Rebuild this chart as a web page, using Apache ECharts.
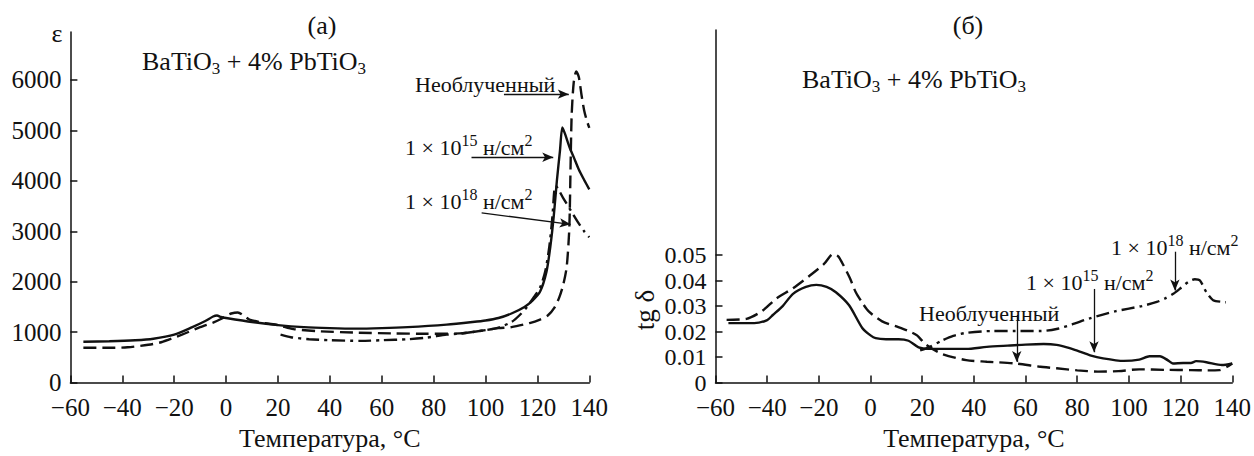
<!DOCTYPE html>
<html>
<head>
<meta charset="utf-8">
<script src="https://cdn.jsdelivr.net/npm/echarts@6/dist/echarts.min.js"></script>
<style>html,body{margin:0;padding:0;background:#fff}#c{width:1254px;height:456px}</style>
</head>
<body>
<div id="c"></div>
<script>
// ---- data: (a) permittivity ε vs temperature, °C ----
const epsUnirradiated = [[-55,690],[-45,690],[-38,700],[-30,750],[-25,800],[-17,950],[-10,1100],[-5,1190],[-2,1260],[0,1320],[2,1370],[4.5,1390],[7,1320],[9,1250],[15,1180],[20,1140],[26,1060],[35,1020],[50,990],[65,975],[77,968],[90,975],[100,1040],[105,1080],[110,1100],[117,1180],[121,1250],[124,1330],[126.5,1480],[128.5,1700],[130,1950],[131.3,2300],[132.3,3070],[132.8,4350],[133.2,5300],[134,5950],[135,6170],[136,6050],[137,5700],[138,5400],[139,5200],[140,5050]];
const epsF15 = [[-55,810],[-45,820],[-35,840],[-28,870],[-20,950],[-13,1100],[-8,1220],[-5,1310],[-3.5,1330],[-2,1300],[0,1280],[10,1200],[20,1140],[30,1100],[40,1080],[50,1070],[60,1080],[70,1100],[85,1150],[95,1200],[100,1230],[105,1280],[110,1370],[115,1500],[118,1620],[121,1800],[123.5,2200],[125,2700],[126.3,3300],[127.5,4000],[128.7,4600],[129.6,5060],[130.5,4950],[132.5,4650],[134,4470],[136,4220],[138,4020],[140,3830]];
const epsF18 = [[21,950],[25,900],[32,860],[40,840],[52,827],[60,840],[70,860],[77,890],[85,950],[90,970],[100,1040],[105,1090],[110,1200],[113,1330],[116,1500],[119,1720],[121,1880],[123,2200],[124.6,2700],[125.8,3300],[126.5,3800],[127,3900],[130,3650],[133,3400],[136,3150],[138,3000],[140,2880]];
// ---- data: (б) loss tangent tg δ vs temperature, °C ----
const tanUnirradiated = [[-55.7,0.0246],[-48,0.025],[-42,0.028],[-36.5,0.0329],[-30,0.037],[-23.7,0.0418],[-18,0.0465],[-14.5,0.0504],[-12.5,0.0495],[-10.9,0.0468],[-8,0.041],[-5.7,0.0354],[-3,0.031],[-0.6,0.0278],[4.5,0.024],[10,0.022],[14.7,0.0202],[18,0.0185],[21.2,0.0151],[27.5,0.0113],[37,0.0088],[45,0.0082],[56,0.0075],[65,0.0063],[72,0.0056],[80,0.0048],[88,0.0043],[96,0.0045],[104,0.0052],[114,0.005],[124,0.0049],[130,0.0048],[135,0.0049],[138,0.0062],[140,0.0075]];
const tanF15 = [[-55,0.0233],[-45,0.0233],[-40,0.0245],[-37.8,0.0265],[-34,0.03],[-30,0.0348],[-25,0.0375],[-21,0.0383],[-17,0.0375],[-13.4,0.0354],[-8.3,0.0303],[-3.2,0.0214],[0,0.0185],[2,0.0174],[6,0.017],[10.9,0.017],[14.7,0.0164],[18.6,0.0138],[22.4,0.0132],[30,0.0132],[37,0.0132],[45,0.014],[53,0.0145],[60,0.0149],[67,0.0151],[72,0.0148],[76,0.0138],[80,0.0125],[85,0.0107],[90,0.0095],[98,0.0085],[104,0.009],[108,0.0103],[112,0.0103],[115,0.0088],[117,0.0075],[121,0.0077],[124,0.0077],[126,0.0084],[130,0.008],[136,0.0069],[140,0.0075]];
const tanF18 = [[19.2,0.0126],[23,0.014],[27.5,0.0164],[32,0.0183],[37,0.0195],[46.7,0.0202],[56,0.0202],[66,0.0202],[72,0.021],[78,0.0228],[85.2,0.0253],[95,0.028],[105,0.03],[110.8,0.0316],[114,0.033],[117.2,0.0348],[120,0.037],[123,0.0395],[125.5,0.0405],[127.5,0.04],[130,0.0354],[132.6,0.0323],[136.4,0.0316],[137.5,0.0315]];
// ---- tick labels ----
const tempTicks = [-60,-40,-20,0,20,40,60,80,100,120,140];
const epsTicks = [0,1000,2000,3000,4000,5000,6000];
const tanTicks = [0,0.01,0.02,0.03,0.04,0.05];
// ---- annotation arrows (data coords: [from],[to]) ----
const arrowsA = [[[107.1,5718],[132.1,5718]],[[94.6,4467],[126.1,4467]],[[98.5,3364],[132.8,3138]]];
const arrowsB = [[[56.6,0.0265],[56.6,0.0081]],[[86.5,0.0367],[86.5,0.0119]],[[117.8,0.0513],[117.8,0.0361]]];

const FONT = 'Liberation Serif';
const INK = '#111';
const chart = echarts.init(document.getElementById('c'), null, {renderer:'svg'});

function xAxisCfg(gi){
  return {
    type:'value', gridIndex:gi, min:-60, max:140, interval:20,
    axisLine:{show:true, onZero:false, lineStyle:{color:INK, width:1.5}},
    axisTick:{show:true, inside:true, length:7, customValues:tempTicks, lineStyle:{color:INK, width:1.5}},
    splitLine:{show:false},
    axisLabel:{color:INK, fontFamily:FONT, fontSize:25, lineHeight:20, margin:15, customValues:tempTicks,
      showMinLabel:true, showMaxLabel:true, hideOverlap:false,
      formatter:v=>String(v).replace('-','\u2212')},
    name:'Температура, °С', nameLocation:'middle', nameGap:32,
    nameTextStyle:{color:INK, fontFamily:FONT, fontSize:26}
  };
}
function arrowLine(arrs){
  return {
    silent:true, symbol:['none','arrow'], symbolSize:[7,11], animation:false,
    label:{show:false}, emphasis:{disabled:true},
    lineStyle:{color:INK, width:1.3, type:'solid'},
    data: arrs.map(a=>[{coord:a[0]},{coord:a[1]}])
  };
}
function line(data, xi, type, ml){
  const s = {type:'line', xAxisIndex:xi, yAxisIndex:xi, data:data, showSymbol:false,
    smooth:0.25, silent:true, animation:false,
    lineStyle:{color:INK, width:2.4, type:type}};
  if (ml) s.markLine = ml;
  return s;
}
const DASH = [13,6];
const DASHDOT = [13,5,3,5];

const rich = {
  m:{fontFamily:FONT, fontSize:26, lineHeight:32, color:INK},
  s:{fontFamily:FONT, fontSize:17, lineHeight:17, verticalAlign:'bottom', color:INK},
  p:{fontFamily:FONT, fontSize:16, lineHeight:16, verticalAlign:'top', color:INK},
  a:{fontFamily:FONT, fontSize:22, lineHeight:30, color:INK}
};
function txt(x,y,text,opt,rot){
  return {type:'text', x:x, y:y, rotation:rot||0, silent:true,
    style:Object.assign({text:text, rich:rich, fill:INK, align:'left', verticalAlign:'middle',
      fontFamily:FONT, fontSize:22}, opt||{})};
}
const compound = '{m|BaTiO}{s|3}{m| + 4% PbTiO}{s|3}';
const f15 = '{a|1 × 10}{p|15}{a| н/см}{p|2}';
const f18 = '{a|1 × 10}{p|18}{a| н/см}{p|2}';

const yLine = {show:true, onZero:false, lineStyle:{color:INK, width:1.5}};
function yLabel(extra){
  return Object.assign({color:INK, fontFamily:FONT, fontSize:25, lineHeight:20, margin:9,
    interval:0, showMinLabel:true, showMaxLabel:true, hideOverlap:false}, extra);
}

chart.setOption({
  animation:false,
  backgroundColor:'#fff',
  grid:[
    {left:70.4, right:664.7, top:32, bottom:63},
    {left:715.5, right:18, top:30, bottom:63}
  ],
  xAxis:[xAxisCfg(0), xAxisCfg(1)],
  yAxis:[
    {type:'value', gridIndex:0, min:0, max:6950,
     axisLine:yLine,
     axisTick:{show:true, inside:true, length:7, customValues:epsTicks, lineStyle:{color:INK, width:1.5}},
     axisLabel:yLabel({customValues:epsTicks, formatter:v=>String(v)}),
     splitLine:{show:false}},
    {type:'value', gridIndex:1, min:0, max:0.1382,
     axisLine:yLine,
     axisTick:{show:true, inside:true, length:7, customValues:tanTicks, lineStyle:{color:INK, width:1.5}},
     axisLabel:yLabel({customValues:tanTicks, fontSize:24, lineHeight:16,
       formatter:v=> v===0 ? '0' : v.toFixed(2)}),
     splitLine:{show:false}}
  ],
  series:[
    line(epsUnirradiated, 0, DASH, arrowLine(arrowsA)),
    line(epsF15, 0, 'solid'),
    line(epsF18, 0, DASHDOT),
    line(tanUnirradiated, 1, DASH, arrowLine(arrowsB)),
    line(tanF15, 1, 'solid'),
    line(tanF18, 1, DASHDOT)
  ],
  graphic:[
    txt(322,25,'(a)',{align:'center', fontSize:26}),
    txt(968,25,'(б)',{align:'center', fontSize:26}),
    txt(57,33,'ε',{align:'center', fontSize:26}),
    txt(645,310,'tg δ',{align:'center', fontSize:27}, Math.PI/2),
    txt(142,61,compound),
    txt(802,79,compound),
    txt(415,84,'{a|Необлученный}'),
    txt(405,147,f15),
    txt(405,201,f18),
    txt(919,313,'{a|Необлученный}'),
    txt(1026,282,f15),
    txt(1111,247,f18)
  ]
});
</script>
</body>
</html>
